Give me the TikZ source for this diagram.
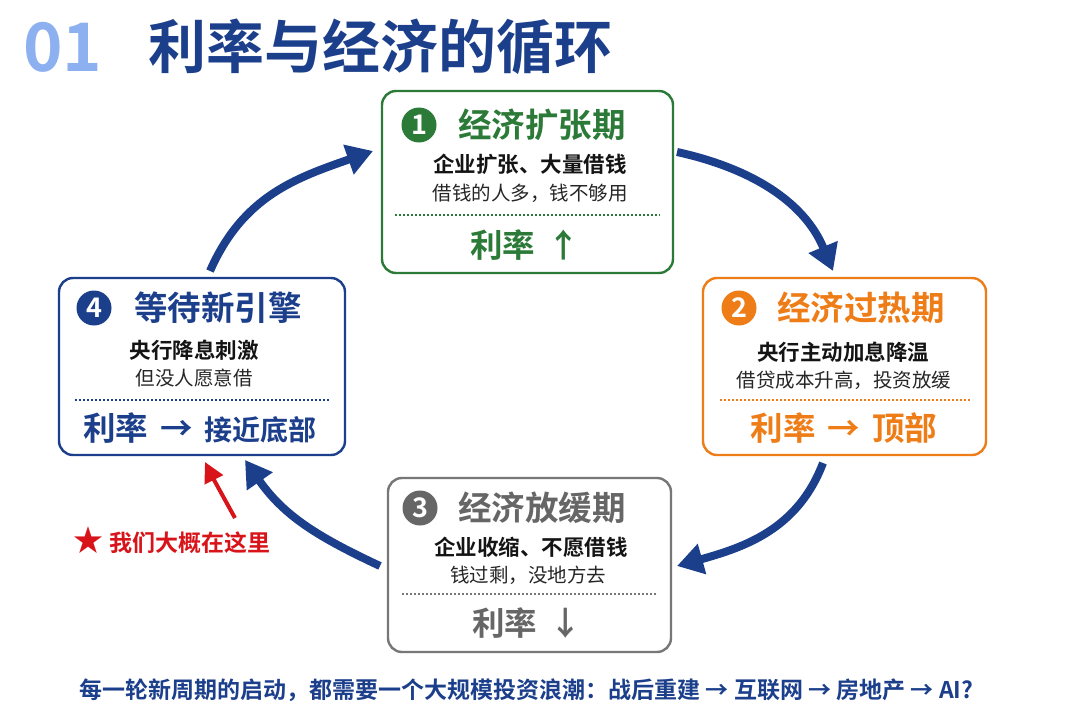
\documentclass[tikz,border=0pt]{standalone}
\usepackage{fontspec}
\setmainfont{Noto Sans CJK SC}[BoldFont={Noto Sans CJK SC Bold}]
\usetikzlibrary{arrows.meta}
\definecolor{navy}{HTML}{1C3F8C}
\definecolor{lightblue}{HTML}{8DB0F0}
\definecolor{grn}{HTML}{2B7A38}
\definecolor{org}{HTML}{EE7D18}
\definecolor{gry}{HTML}{777777}
\definecolor{gryt}{HTML}{666666}
\definecolor{redc}{HTML}{D8141A}
\newcommand\fsz[1]{\fontsize{#1}{#1}\selectfont}
\newcommand\arrgap{\hspace{12pt}}
\begin{document}
\begin{tikzpicture}[x=1pt,y=-1pt,
  box/.style={draw, line width=2.4pt, rounded corners=14pt, fill=white, inner sep=0},
  num/.style={circle, minimum size=35pt, inner sep=0, text=white, font=\bfseries\fsz{27}},
  ttl/.style={font=\bfseries\fsz{33.5}, inner sep=0},
  lineone/.style={font=\bfseries\fsz{21.5}, text=black!92, inner sep=0},
  linetwo/.style={font=\fsz{19.5}, text=black!85, inner sep=0},
  rate/.style={font=\bfseries\fsz{32.5}, inner sep=0},
  dotsep/.style={line width=1.6pt, dash pattern=on 1.6pt off 2.4pt},
  cyc/.style={draw=navy, line width=8pt, -{Triangle[length=26pt,width=30pt]}},
  redarr/.style={draw=redc, line width=4pt, -{Triangle[length=20pt,width=20pt]}}]
\fill[white] (0,0) rectangle (1080,720);
\useasboundingbox (0,0) rectangle (1080,720);

% title
\node[anchor=west, inner sep=0, text=lightblue, font=\bfseries\fsz{67}] (num01) at (23,47) {01};
\node[anchor=west, inner sep=0, text=navy, font=\bfseries\fsz{58}] (title) at (148,47) {利率与经济的循环};

% box 1
\node[box, draw=grn, minimum width=291pt, minimum height=182pt] (b1) at (527.5,182) {};
\node[num, fill=grn] (n1) at (419,125) {1};
\node[ttl, text=grn] (t1) at (542,125) {经济扩张期};
\node[lineone] (a1) at (530,164) {企业扩张、大量借钱};
\node[linetwo] (c1) at (530,193) {借钱的人多，钱不够用};
\draw[dotsep, draw=grn] (395,215) -- (660,215);
\node[rate, text=grn] (r1) at (525,245) {利率{\arrgap}↑};

% box 2
\node[box, draw=org, minimum width=283pt, minimum height=177pt] (b2) at (844.5,366.5) {};
\node[num, fill=org] (n2) at (739,308) {2};
\node[ttl, text=org] (t2) at (861,308) {经济过热期};
\node[lineone] (a2) at (843,352) {央行主动加息降温};
\node[linetwo] (c2) at (844,380) {借贷成本升高，投资放缓};
\draw[dotsep, draw=org] (720,400) -- (970,400);
\node[rate, text=org] (r2) at (844,428) {利率{\arrgap}→{\arrgap}顶部};

% box 3
\node[box, draw=gry, minimum width=283pt, minimum height=174pt] (b3) at (529.5,565) {};
\node[num, fill=gryt] (n3) at (420,508) {3};
\node[ttl, text=gryt] (t3) at (542,508) {经济放缓期};
\node[lineone] (a3) at (531,547) {企业收缩、不愿借钱};
\node[linetwo] (c3) at (528,575) {钱过剩，没地方去};
\draw[dotsep, draw=gry] (402,594) -- (657,594);
\node[rate, text=gryt] (r3) at (527,623) {利率{\arrgap}↓};

% box 4
\node[box, draw=navy, minimum width=286pt, minimum height=177pt] (b4) at (202,366.5) {};
\node[num, fill=navy] (n4) at (94,308) {4};
\node[ttl, text=navy] (t4) at (218,308) {等待新引擎};
\node[lineone] (a4) at (194,350) {央行降息刺激};
\node[linetwo] (c4) at (194,378) {但没人愿意借};
\draw[dotsep, draw=navy] (75,400) -- (330,400);
\node[rate, text=navy] (r4) at (200,428) {利率{\arrgap}→{\arrgap}{\fsz{28}接近底部}};

% cycle arrows
\coordinate (p1s) at (677,152); \coordinate (p1e) at (833,271);
\coordinate (p2s) at (823,463); \coordinate (p2e) at (677,566);
\coordinate (p3s) at (380,566); \coordinate (p3e) at (245,460);
\coordinate (p4s) at (210,271); \coordinate (p4e) at (373,151);
\draw[cyc] (p1s) .. controls (750,168) and (804,201) .. (p1e);
\draw[cyc] (p2s) .. controls (798,529) and (745,547) .. (p2e);
\draw[cyc] (p3s) .. controls (318,537) and (284,516) .. (p3e);
\draw[cyc] (p4s) .. controls (243,196) and (296,178) .. (p4e);

% red annotation
\coordinate (rs) at (235,518); \coordinate (re) at (205,462);
\draw[redarr] (rs) .. controls (225,500) and (213,478) .. (re);
\node[inner sep=0, text=redc, font=\bfseries\fsz{23}] (here) at (172,540) {{\fsz{30}★}{\hspace{6pt}}我们大概在这里};

% bottom line
\node[inner sep=0, text=navy, font=\bfseries\fsz{23}] (foot) at (526.5,690) {每一轮新周期的启动，都需要一个大规模投资浪潮：战后重建 → 互联网 → 房地产 → AI?};
\end{tikzpicture}
\end{document}
